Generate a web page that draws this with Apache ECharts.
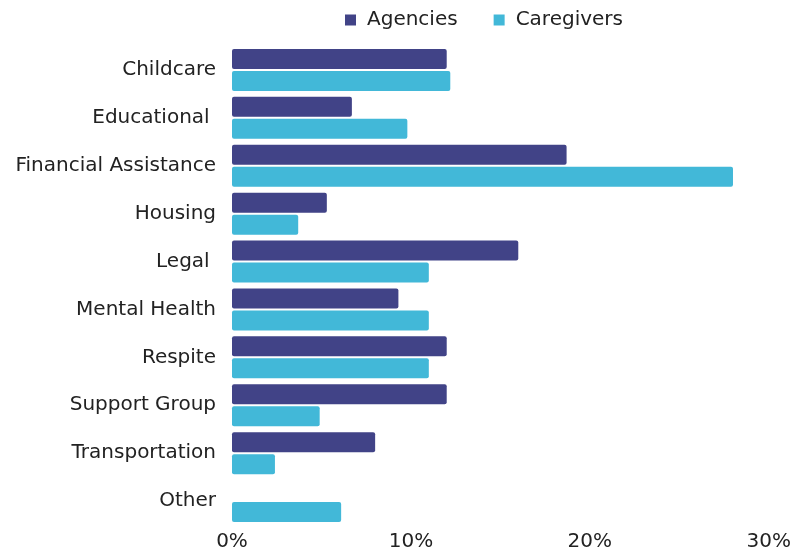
<!DOCTYPE html>
<html><head><meta charset="utf-8">
<script src="https://cdn.jsdelivr.net/npm/echarts@6/dist/echarts.min.js"></script>
<style>html,body{margin:0;padding:0;background:#fff}#c{width:794px;height:557px}</style>
</head><body><div id="c"></div>
<script>
const categories = ['Childcare','Educational ','Financial Assistance','Housing','Legal ','Mental Health','Respite','Support Group','Transportation','Other'];
const agencies = [12.0, 6.7, 18.7, 5.3, 16.0, 9.3, 12.0, 12.0, 8.0, 0];
const caregivers = [12.2, 9.8, 28.0, 3.7, 11.0, 11.0, 11.0, 4.9, 2.4, 6.1];
const xTicks = [0, 10, 20, 30];

const FONT = 'DejaVu Sans';
const chart = echarts.init(document.getElementById('c'), null, {renderer:'canvas'});
chart.setOption({
  animation:false,
  textStyle:{fontFamily:FONT},
  legend:{
    top:5, left:340, itemWidth:11, itemHeight:11, itemGap:36,
    icon:'rect',
    textStyle:{fontSize:20, color:'#222', fontFamily:FONT, padding:[0,0,0,6]},
    data:['Agencies','Caregivers']
  },
  grid:{left:232, right:24, top:46, bottom:32},
  xAxis:{
    type:'value', min:xTicks[0], max:xTicks[xTicks.length-1], interval:10,
    axisLine:{show:false}, axisTick:{show:false}, splitLine:{show:false},
    axisLabel:{formatter:'{value}%', fontSize:20, color:'#222', margin:7, fontFamily:FONT}
  },
  yAxis:{
    type:'category', data:categories, inverse:true,
    axisLine:{show:false}, axisTick:{show:false},
    axisLabel:{fontSize:20, color:'#222', margin:16, fontFamily:FONT}
  },
  series:[
    {name:'Agencies', type:'bar', data:agencies, barWidth:20, barGap:'10%',
     itemStyle:{color:'#414387', borderRadius:2}},
    {name:'Caregivers', type:'bar', data:caregivers, barWidth:20, barGap:'10%',
     itemStyle:{color:'#42b8d8', borderRadius:2}}
  ]
});
</script></body></html>
